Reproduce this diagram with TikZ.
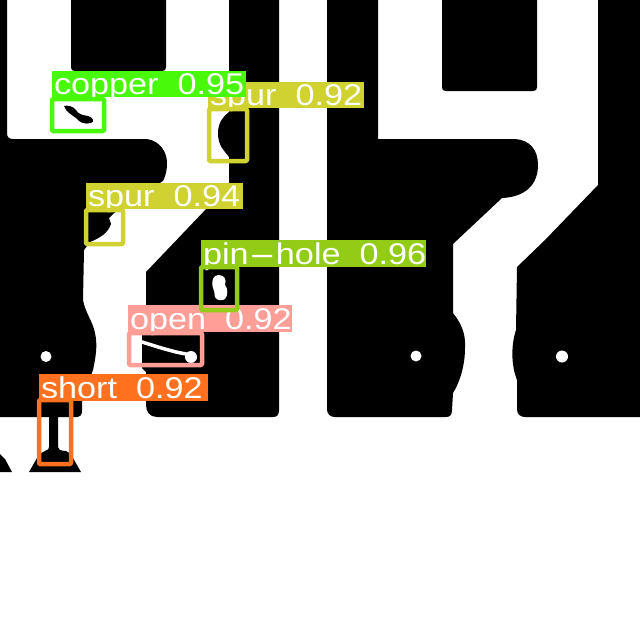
\documentclass[tikz,border=0pt]{standalone}
\usepackage{fontspec}
\usepackage{graphicx}
\newfontfamily\labfont[FakeStretch=1.14]{Liberation Sans}
\definecolor{cOpen}{HTML}{FF9D97}
\definecolor{cShort}{HTML}{FF701F}
\definecolor{cSpur}{HTML}{CFD231}
\definecolor{cCopper}{HTML}{48F90A}
\definecolor{cPin}{HTML}{92CC17}
\newcommand{\gapw}{\hspace{19pt}}
\tikzset{
  copperarea/.style={fill=black,draw=none},
  defectbox/.style={line width=4.5pt,line join=round,rounded corners=1pt},
  labtext/.style={anchor=base west,inner sep=0pt,outer sep=0pt,text=white,font=\labfont\fontsize{30}{30}\selectfont},
  hole/.style={fill=white,draw=none}
}
\begin{document}
\begin{tikzpicture}[x=1pt,y=-1pt]
\useasboundingbox (0,0) rectangle (640,640);
\fill[white] (0,0) rectangle (640,640);
% left region
\fill[copperarea] (0,0) -- (7,0) -- (7,133) .. controls (7,137) and (9,139) .. (13,139) -- (147,139)
  .. controls (160,141) and (167,152) .. (167,163) .. controls (167,170) and (166,175) .. (163,181)
  -- (125,205) -- (117,211) -- (113,214) -- (109,218) -- (111,224) .. controls (108,233) and (100,238) .. (90,242)
  -- (84,250) -- (83,300) .. controls (85,312) and (93,322) .. (95,333) .. controls (97,342) and (97,352) .. (93,370)
  -- (82,400) -- (82,411) .. controls (82,415) and (80,417) .. (76,417) -- (0,417) -- cycle;
% black block at top left
\fill[copperarea] (71,0) -- (166,0) -- (166,67) .. controls (166,70) and (165,71) .. (162,71) -- (75,71) .. controls (72,71) and (71,70) .. (71,67) -- cycle;
% central region
\fill[copperarea] (229,0) -- (279,0) -- (279,410) .. controls (279,415) and (277,417) .. (273,417) -- (157,417)
  .. controls (150,417) and (146,412) .. (146,405) -- (146,372) -- (142,368) -- (142,334) -- (146,330) -- (146,272)
  -- (229,185) -- (229,157) .. controls (224,150) and (218,146) .. (218,133) .. controls (218,122) and (224,116) .. (229,112) -- cycle;
% middle right region
\fill[copperarea] (327,0) -- (378,0) -- (378,139) -- (515,139) .. controls (530,140) and (538,150) .. (538,165)
  .. controls (538,185) and (525,197) .. (502,198) -- (453,244) -- (453,313)
  .. controls (460,322) and (466,332) .. (465,348) .. controls (465,365) and (460,382) .. (453,393)
  -- (452,410) .. controls (452,415) and (450,417) .. (446,417) -- (335,417) .. controls (330,417) and (327,414) .. (327,409) -- cycle;
% top notch
\fill[copperarea] (442,0) -- (537,0) -- (537,87) .. controls (537,90) and (536,91) .. (533,91) -- (446,91) .. controls (443,91) and (442,90) .. (442,87) -- cycle;
% right region
\fill[copperarea] (598,0) -- (640,0) -- (640,417) -- (525,417) .. controls (520,417) and (517,414) .. (517,409) -- (517,380)
  .. controls (511,365) and (511,345) .. (516,330) -- (517,267) -- (545,240) -- (598,185) -- cycle;
% stem and mound
\fill[copperarea] (29,472) -- (37,458) .. controls (39,454) and (42,452) .. (45,451) .. controls (48,450) and (49,449) .. (49,447) -- (49,415)
  -- (58,415) -- (58,447) .. controls (58,449) and (60,451) .. (66,451) .. controls (69,452) and (71,454) .. (73,458) -- (81,472) -- cycle;
\fill[copperarea] (0,454) -- (5,459) -- (12,472) -- (0,472) -- cycle;
% holes
\fill[hole] (46,356.5) circle (5.5);
\fill[hole] (416,356) circle (5.5);
\fill[hole] (562,356.5) circle (6);
\fill[hole] (191,357) circle (6);
% open trace
\draw[white,line width=3.5pt,line cap=round,line join=round] (142,342) -- (163,348.5) -- (176,352) -- (191,355);
% pin hole
\fill[white] (218.5,275) .. controls (224,275) and (227,279) .. (225,285) .. controls (228,288) and (228,296) .. (225,299)
  .. controls (222,301) and (217,301) .. (215,297) .. controls (214,293) and (215,291) .. (213,288) .. controls (211,281) and (213,275) .. (218.5,275) -- cycle;
% copper mouse bite
\fill[black] (64,106) .. controls (67,105) and (73,106) .. (76,110) .. controls (78,114) and (82,115) .. (88,116)
  .. controls (93,117) and (95,122) .. (91,123) .. controls (85,125) and (79,122) .. (76,118) .. controls (72,115) and (66,112) .. (64,106) -- cycle;

% short
\fill[cShort] (39,374) rectangle (208,401);
\node[labtext] (shorttext) at (41,398.5) {short\gapw 0.92};
\draw[cShort,defectbox] (39,400) rectangle (71,464);
% open
\fill[cOpen] (128,305) rectangle (292,332);
\node[labtext] (opentext) at (130,329.5) {open\gapw 0.92};
\draw[cOpen,defectbox] (129,333) rectangle (202,365);
% pin-hole
\fill[cPin] (201,240) rectangle (426,267);
\node[labtext] (pintext) at (203,264.5) {pin\scalebox{2.4}[1]{-}hole\gapw 0.96};
\draw[cPin,defectbox] (201,267) rectangle (237,310);
% spur 94
\fill[cSpur] (86,183) rectangle (243,209);
\node[labtext] (spurtexta) at (88,206.5) {spur\gapw 0.94};
\draw[cSpur,defectbox] (86,210) rectangle (123,244);
% spur 92
\fill[cSpur] (208,82) rectangle (364,108);
\node[labtext] (spurtextb) at (210,105.5) {spur\gapw 0.92};
\draw[cSpur,defectbox] (209,109) rectangle (247,161);
% copper
\fill[cCopper] (52,71) rectangle (246,97);
\node[labtext] (coppertext) at (54,94.5) {copper\gapw 0.95};
\draw[cCopper,defectbox] (52,99) rectangle (104,131);
\end{tikzpicture}
\end{document}
